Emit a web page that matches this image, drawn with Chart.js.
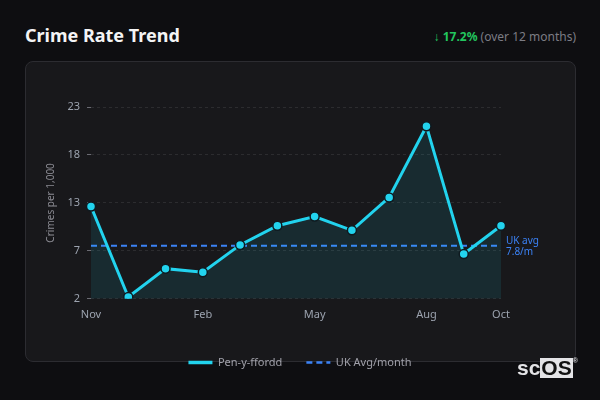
<!DOCTYPE html>
<html>
<head>
<meta charset="utf-8">
<script src="https://cdn.jsdelivr.net/npm/chart.js@4.4.1/dist/chart.umd.min.js"></script>
<style>
  html, body { margin: 0; padding: 0; }
  body { width: 600px; height: 400px; background: #0e0e11; font-family: "Noto Sans", sans-serif; position: relative; overflow: hidden; }
  .title { position: absolute; left: 25px; top: 23px; color: #f4f4f5; font-size: 18px; font-weight: 700; }
  .change { position: absolute; right: 24px; top: 28px; font-size: 12px; color: #7c7c84; }
  .change b { color: #22c55e; font-weight: 700; }
  .card { position: absolute; left: 25px; top: 61px; width: 549px; height: 299px; background: #18181b; border: 1px solid #2c2c31; border-radius: 8px; }
  .wrap { position: absolute; left: 33px; top: 70px; width: 534px; height: 308px; }
  .logo { position: absolute; left: 517px; top: 358px; font-family: "Liberation Sans", Arial, sans-serif; font-size: 21px; line-height: 20px; font-weight: 700; color: #e4e4e7; }
  .logo span { display: inline-block; background: #e4e4e7; color: #111; padding: 0 1px; height: 20px; }
  .logo sup { font-size: 7px; line-height: 7px; color: #d4d4d8; vertical-align: top; position: relative; top: -1px; }
</style>
</head>
<body>
<div class="title">Crime Rate Trend</div>
<div class="change"><b>↓ 17.2%</b> (over 12 months)</div>
<div class="card"></div>
<div class="wrap"><canvas id="myChart"></canvas></div>
<div class="logo">sc<span>OS</span><sup>®</sup></div>
<script>
// data
const months = ["Nov", "Dec", "Jan", "Feb", "Mar", "Apr", "May", "Jun", "Jul", "Aug", "Sep", "Oct"];
const crimeRate = [12.1, 2.2, 5.3, 4.9, 7.9, 10.0, 11.0, 9.5, 13.1, 20.9, 6.9, 10.0];
const ukAvg = 7.8;
const ukAvgLine = months.map(() => ukAvg);
const shownTicks = ["Nov", "Feb", "May", "Aug", "Oct"];

const cyan = '#22d3ee';
const blue = '#3b82f6';

// label at the end of the avg line
const avgLabel = {
  id: 'avgLabel',
  afterDatasetsDraw(chart) {
    const ctx = chart.ctx;
    const y = chart.scales.y.getPixelForValue(ukAvg);
    const x = chart.chartArea.right + 5;
    ctx.save();
    ctx.fillStyle = blue;
    ctx.font = '10px "Noto Sans"';
    ctx.textBaseline = 'middle';
    ctx.fillText('UK avg', x, y - 4.5);
    ctx.fillText(ukAvg + '/m', x, y + 6.5);
    ctx.restore();
  }
};

const chart = document.querySelector("#myChart");
new Chart(chart, {
  type: "line",
  data: {
    labels: months,
    datasets: [{
      label: "Pen-y-ffordd",
      data: crimeRate,
      borderColor: cyan,
      backgroundColor: 'rgba(34, 211, 238, 0.10)',
      borderWidth: 3,
      fill: 'start',
      tension: 0,
      pointRadius: 4.5,
      pointBackgroundColor: cyan,
      pointBorderColor: '#0f1a20',
      pointBorderWidth: 1.5
    }, {
      label: "UK Avg/month",
      data: ukAvgLine,
      borderColor: blue,
      backgroundColor: 'transparent',
      borderWidth: 2,
      borderDash: [6, 4],
      pointRadius: 0,
      fill: false
    }]
  },
  options: {
    responsive: true,
    maintainAspectRatio: false,
    animation: false,
    layout: { padding: { top: 37, right: 0, left: 0, bottom: 0 } },
    plugins: {
      legend: {
        position: 'bottom',
        labels: {
          color: '#a1a1aa',
          font: { family: 'Noto Sans', size: 11 },
          usePointStyle: true,
          pointStyleWidth: 24,
          boxHeight: 3,
          padding: 24,
          generateLabels: (c) => c.data.datasets.map((ds, i) => ({
            text: ds.label,
            fillStyle: ds.borderColor,
            strokeStyle: ds.borderColor,
            lineWidth: ds.borderWidth + 0.5,
            lineDash: ds.borderDash || [],
            pointStyle: 'line',
            fontColor: '#a1a1aa',
            hidden: false,
            datasetIndex: i
          }))
        }
      },
      tooltip: { enabled: false }
    },
    scales: {
      x: {
        grid: { display: false },
        border: { display: false },
        afterFit: (s) => { s.height += 11; },
        ticks: {
          color: '#9ca3af',
          font: { family: 'Noto Sans', size: 11 },
          autoSkip: false,
          maxRotation: 0,
          padding: 1,
          callback: function (v, i) {
            const lab = this.getLabelForValue(v);
            return shownTicks.includes(lab) ? lab : '';
          }
        }
      },
      y: {
        min: 2,
        max: 23,
        afterFit: (s) => { s.width = 58; },
        border: { display: false, dash: [3, 3] },
        grid: {
          color: 'rgba(255,255,255,0.09)',
          tickColor: '#6b6b73',
          tickLength: 4,
          tickBorderDash: [],
          tickWidth: 1
        },
        ticks: {
          count: 5,
          color: '#9ca3af',
          font: { family: 'Noto Sans', size: 11 },
          padding: 7,
          callback: (v) => Math.round(v)
        },
        title: {
          display: true,
          text: 'Crimes per 1,000',
          color: '#8b8b93',
          padding: { top: 12, bottom: 4 },
          font: { family: 'Noto Sans', size: 10 }
        }
      },
      // empty right-hand axis keeps room for the avg label
      yRight: {
        position: 'right',
        afterFit: (s) => { s.width = 66; },
        grid: { display: false },
        border: { display: false },
        ticks: { display: false }
      }
    }
  },
  plugins: [avgLabel]
});
</script>
</body>
</html>
